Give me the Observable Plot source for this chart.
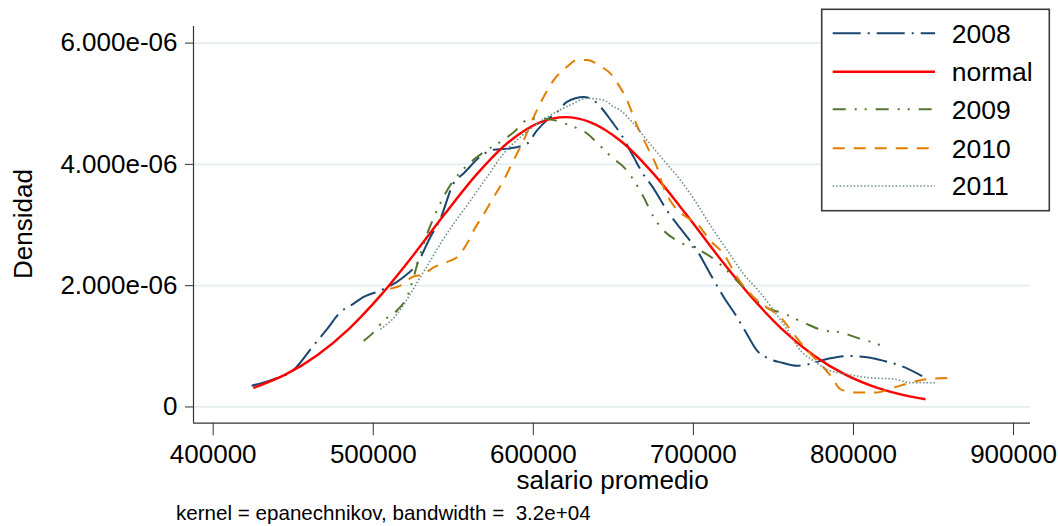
<!DOCTYPE html>
<html>
<head>
<meta charset="utf-8">
<script src="https://cdn.jsdelivr.net/npm/d3@7"></script>
<script src="https://cdn.jsdelivr.net/npm/@observablehq/plot@0.6"></script>
<style>
  body { margin: 0; background: #fff; }
  #chart { position: relative; width: 1058px; height: 526px; }
</style>
</head>
<body>
<div id="chart"></div>
<script>
// ---- Data ----
const seriesNames = ["2008", "normal", "2009", "2010", "2011"];
const xTicks = [400000, 500000, 600000, 700000, 800000, 900000];
const yTicks = [0, 2e-6, 4e-6, 6e-6];

const s2008 = [
  [424000,0.35e-6],[437000,0.45e-6],[451000,0.63e-6],[461700,0.98e-6],[471000,1.28e-6],
  [479400,1.56e-6],[487500,1.70e-6],[493700,1.81e-6],[504400,1.92e-6],[518800,2.14e-6],
  [527300,2.36e-6],[535600,2.80e-6],[541900,3.10e-6],[550000,3.68e-6],[556400,3.85e-6],
  [567900,4.15e-6],[575000,4.24e-6],[584600,4.26e-6],[596000,4.34e-6],[602300,4.56e-6],
  [608500,4.73e-6],[614800,4.86e-6],[621000,5.03e-6],[631500,5.11e-6],[635600,5.09e-6],
  [641900,4.95e-6],[649200,4.70e-6],[654400,4.51e-6],[662700,4.12e-6],[667900,3.87e-6],
  [675200,3.60e-6],[683500,3.24e-6],[692000,2.94e-6],[702300,2.58e-6],[710600,2.19e-6],
  [719000,1.81e-6],[727300,1.48e-6],[733500,1.20e-6],[739800,0.93e-6],[746000,0.81e-6],
  [755400,0.73e-6],[764800,0.68e-6],[771100,0.70e-6],[783500,0.79e-6],[796000,0.84e-6],
  [810600,0.81e-6],[818900,0.76e-6],[829400,0.68e-6],[842900,0.51e-6]
];
const sNormal = [
  [425000,0.313e-6],[445000,0.532e-6],[465000,0.854e-6],[485000,1.293e-6],[505000,1.852e-6],
  [525000,2.502e-6],[545000,3.193e-6],[565000,3.848e-6],[585000,4.378e-6],[605000,4.703e-6],
  [620000,4.780e-6],[635000,4.703e-6],[655000,4.378e-6],[675000,3.848e-6],[695000,3.193e-6],
  [715000,2.502e-6],[735000,1.852e-6],[755000,1.293e-6],[775000,0.854e-6],[795000,0.532e-6],
  [815000,0.313e-6],[835000,0.174e-6],[845000,0.127e-6]
];
const s2009 = [
  [494000,1.09e-6],[500200,1.23e-6],[506400,1.42e-6],[514800,1.59e-6],[521000,1.81e-6],
  [529400,2.52e-6],[533600,2.85e-6],[539800,3.24e-6],[550200,3.74e-6],[554400,3.87e-6],
  [568900,4.20e-6],[579400,4.37e-6],[587700,4.53e-6],[596000,4.73e-6],[604400,4.76e-6],
  [612700,4.73e-6],[623100,4.64e-6],[633600,4.51e-6],[641900,4.30e-6],[650200,4.09e-6],
  [656400,3.96e-6],[662700,3.74e-6],[668900,3.46e-6],[675200,3.13e-6],[681400,2.91e-6],
  [689800,2.74e-6],[704400,2.58e-6],[712700,2.44e-6],[721000,2.25e-6],[727300,2.08e-6],
  [733500,1.92e-6],[741900,1.70e-6],[750200,1.59e-6],[754400,1.56e-6],[769000,1.39e-6],
  [781400,1.26e-6],[791900,1.23e-6],[804400,1.12e-6],[812700,1.06e-6],[820000,0.98e-6]
];
const s2010 = [
  [510600,1.95e-6],[519000,2.03e-6],[524200,2.14e-6],[531500,2.19e-6],[537700,2.30e-6],
  [546000,2.39e-6],[552300,2.47e-6],[558500,2.69e-6],[562700,2.91e-6],[569000,3.18e-6],
  [575200,3.46e-6],[581500,3.74e-6],[587700,4.07e-6],[594000,4.40e-6],[600200,4.78e-6],
  [606400,5.11e-6],[612700,5.39e-6],[621000,5.61e-6],[627300,5.72e-6],[633600,5.72e-6],
  [641900,5.62e-6],[648100,5.50e-6],[652300,5.35e-6],[658500,5.06e-6],[664800,4.64e-6],
  [671000,4.30e-6],[677300,3.95e-6],[681400,3.62e-6],[687700,3.32e-6],[694000,3.16e-6],
  [702300,3.02e-6],[710600,2.74e-6],[719000,2.52e-6],[727300,2.14e-6],[737700,1.81e-6],
  [746000,1.64e-6],[754400,1.48e-6],[762700,1.20e-6],[771100,0.93e-6],[780400,0.68e-6],
  [786700,0.48e-6],[791900,0.29e-6],[802300,0.24e-6],[814800,0.24e-6],[825200,0.32e-6],
  [835600,0.40e-6],[846000,0.46e-6],[860600,0.48e-6]
];
const s2011 = [
  [504400,1.28e-6],[514800,1.53e-6],[523100,1.86e-6],[529400,2.14e-6],[535600,2.41e-6],
  [541900,2.69e-6],[550200,3.02e-6],[560600,3.40e-6],[571000,3.79e-6],[581500,4.18e-6],
  [591900,4.45e-6],[602300,4.67e-6],[612700,4.84e-6],[623100,4.98e-6],[633600,5.09e-6],
  [643900,5.06e-6],[650200,4.95e-6],[654400,4.89e-6],[662700,4.67e-6],[671000,4.40e-6],
  [681400,4.07e-6],[691900,3.74e-6],[701000,3.40e-6],[711000,2.98e-6],[722000,2.55e-6],
  [731400,2.19e-6],[741900,1.88e-6],[750200,1.59e-6],[758500,1.28e-6],[766900,0.93e-6],
  [775200,0.76e-6],[783500,0.62e-6],[796000,0.54e-6],[810600,0.48e-6],[825200,0.46e-6],
  [835600,0.40e-6],[852300,0.40e-6]
];
const seriesData = [s2008, sNormal, s2009, s2010, s2011];

// ---- Styling ----
const styles = {
  "2008":   {stroke: "#1a476f", dash: "28,7,2,7",        width: 2},
  "normal": {stroke: "#ff0000", dash: null,              width: 2.4},
  "2009":   {stroke: "#55752f", dash: "13,9,2,8,2,9",    width: 2},
  "2010":   {stroke: "#e37e00", dash: "12,9",            width: 2},
  "2011":   {stroke: "#6e8e84", dash: "1.5,2",           width: 1.6}
};

const rows = [];
seriesNames.forEach((name, i) => {
  seriesData[i].forEach(([x, y]) => rows.push({series: name, x, y}));
});

const xDomain = [387700, 910600];
const yDomain = [-0.268e-6, 6.274e-6];
const font = "'Liberation Sans', Arial, Helvetica, sans-serif";

const fmtY = d => d === 0 ? "0" : d.toExponential(3).replace(/e([+-])(\d)$/, "e$10$2");

const lineMarks = seriesNames.map(name => Plot.line(rows.filter(r => r.series === name), {
  x: "x", y: "y", curve: "monotone-x",
  stroke: styles[name].stroke,
  strokeWidth: styles[name].width,
  strokeDasharray: styles[name].dash || undefined,
  strokeLinecap: "butt"
}));

const chart = Plot.plot({
  width: 1058,
  height: 526,
  marginTop: 26,
  marginBottom: 103.3,
  marginLeft: 193,
  marginRight: 28,
  style: {fontFamily: font, fontSize: "26px", color: "#000", background: "#fff", overflow: "visible"},
  x: {domain: xDomain, ticks: xTicks, tickSize: 12.5, tickPadding: 9, tickFormat: d3.format("d"), label: null},
  y: {domain: yDomain, ticks: yTicks, tickSize: 8, tickPadding: 8, tickFormat: fmtY, label: null},
  marks: [
    Plot.ruleY(yTicks, {stroke: "#e4edf0", strokeWidth: 1.8}),
    Plot.ruleX([xDomain[0]], {stroke: "#333", strokeWidth: 1.2}),
    Plot.ruleY([yDomain[0]], {stroke: "#333", strokeWidth: 1.2}),
    ...lineMarks
  ]
});

document.getElementById("chart").appendChild(chart);

// ---- Titles, caption and legend added to the same SVG ----
const svg = d3.select(chart);
svg.selectAll("g[aria-label='x-axis tick'] path, g[aria-label='y-axis tick'] path").attr("stroke", "#333");

svg.append("text")
  .attr("transform", "translate(23,224) rotate(-90)")
  .attr("text-anchor", "middle").attr("dy", "0.35em")
  .attr("font-family", font).attr("font-size", 26).attr("fill", "#000")
  .text("Densidad");

svg.append("text")
  .attr("x", 612.5).attr("y", 489)
  .attr("text-anchor", "middle")
  .attr("font-family", font).attr("font-size", 26).attr("fill", "#000")
  .text("salario promedio");

svg.append("text")
  .attr("x", 176).attr("y", 520)
  .attr("text-anchor", "start")
  .attr("font-family", font).attr("font-size", 20.6).attr("fill", "#000")
  .attr("xml:space", "preserve").style("white-space", "pre")
  .text("kernel = epanechnikov, bandwidth =  3.2e+04");

const legend = svg.append("g").attr("aria-label", "legend");
legend.append("rect")
  .attr("x", 821.7).attr("y", 9.3).attr("width", 227.6).attr("height", 201.4)
  .attr("fill", "#fff").attr("stroke", "#3a3a3a").attr("stroke-width", 1.6);
const legendY = [33.3, 71.7, 109.3, 148.3, 186];
seriesNames.forEach((name, i) => {
  const st = styles[name];
  legend.append("line")
    .attr("x1", 832.7).attr("x2", 935).attr("y1", legendY[i]).attr("y2", legendY[i])
    .attr("stroke", st.stroke).attr("stroke-width", st.width)
    .attr("stroke-dasharray", st.dash || null);
  legend.append("text")
    .attr("x", 951.7).attr("y", legendY[i]).attr("dy", "0.35em")
    .attr("text-anchor", "start")
    .attr("font-family", font).attr("font-size", 26.5).attr("fill", "#000")
    .text(name);
});
</script>
</body>
</html>
